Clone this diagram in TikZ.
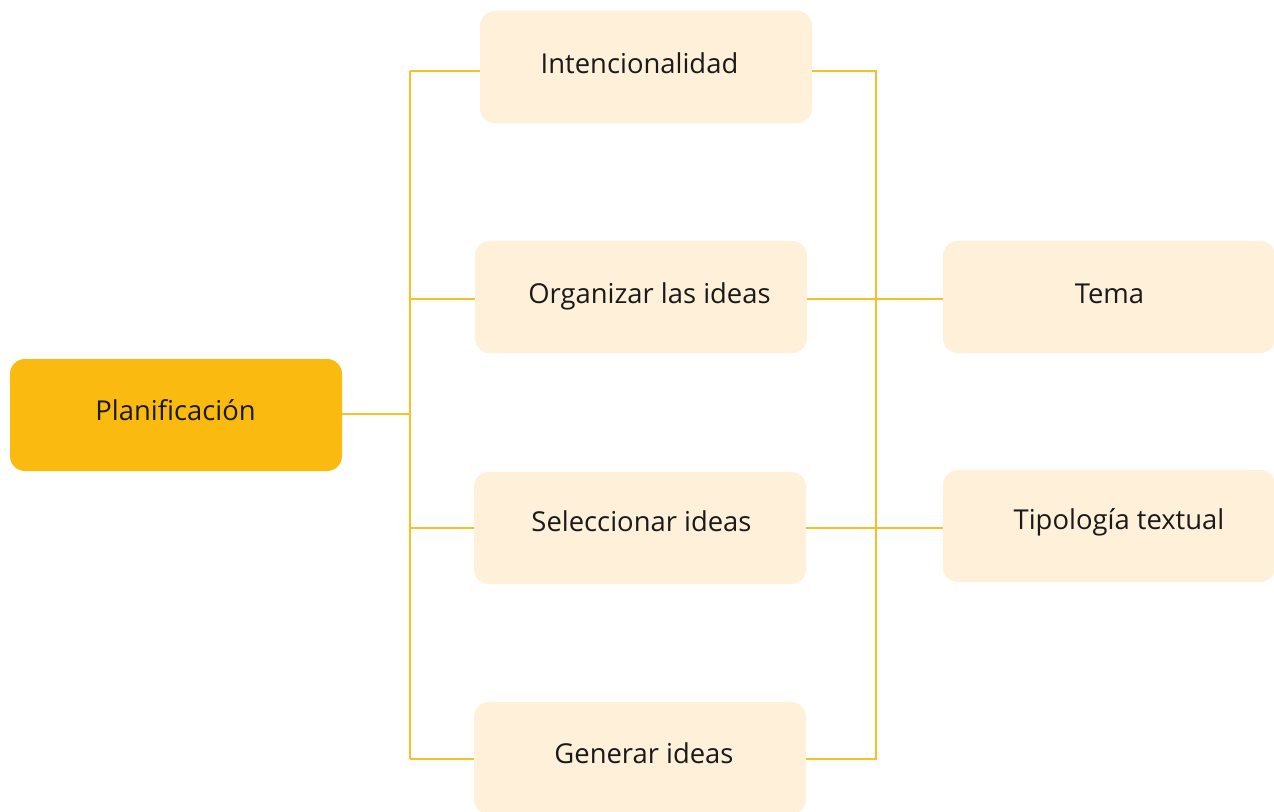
\documentclass[tikz,border=0pt]{standalone}
\usepackage{fontspec}
\setmainfont{Open Sans}
\definecolor{amber}{HTML}{FBBA10}
\definecolor{cream}{HTML}{FEF0D9}
\definecolor{linec}{HTML}{FBBE24}
\definecolor{txt}{HTML}{1A1A1A}
\begin{document}
\begin{tikzpicture}[x=1pt,y=-1pt,
  box/.style={rounded corners=15pt, minimum width=332pt, minimum height=112pt, inner sep=0pt},
  mainbox/.style={box, fill=amber},
  subbox/.style={box, fill=cream},
  lbl/.style={anchor=base, inner sep=0pt, text=txt, font=\fontsize{27.4}{32}\selectfont},
  conn/.style={draw=linec, line width=2pt}]
\clip (0,0) rectangle (1274,811);
\fill[white] (0,0) rectangle (1274,811);
\node[mainbox] (plan) at (176,415) {};
\node[subbox] (int) at (646,67) {};
\node[subbox] (org) at (641,297) {};
\node[subbox] (sel) at (640,528) {};
\node[subbox] (gen) at (640,758) {};
\node[subbox] (tema) at (1109,297) {};
\node[subbox] (tip) at (1109,526) {};
\node[lbl] (plant) at (175.5,420) {Planificación};
\node[lbl] (intt) at (639.5,73) {Intencionalidad};
\node[lbl] (orgt) at (649.5,303) {Organizar las ideas};
\node[lbl] (selt) at (641.5,531) {Seleccionar ideas};
\node[lbl] (gent) at (644,763) {Generar ideas};
\node[lbl] (temat) at (1109.5,303) {Tema};
\node[lbl] (tipt) at (1119,529) {Tipología textual};
\coordinate (L1) at (410,71);
\coordinate (L2) at (410,299);
\coordinate (L3) at (410,528);
\coordinate (L4) at (410,759);
\coordinate (R1) at (876,71);
\coordinate (R2) at (876,299);
\coordinate (R3) at (876,528);
\coordinate (R4) at (876,759);
\draw[conn] (L1) -- (L4);
\draw[conn] (plan.east |- 0,414) -- (L1 |- 0,414);
\draw[conn] (L1) -- (L1 -| int.west);
\draw[conn] (L2) -- (L2 -| org.west);
\draw[conn] (L3) -- (L3 -| sel.west);
\draw[conn] (L4) -- (L4 -| gen.west);
\draw[conn] (R1 -| int.east) -- (R1) -- (R4) -- (R4 -| gen.east);
\draw[conn] (R2 -| org.east) -- (R2 -| tema.west);
\draw[conn] (R3 -| sel.east) -- (R3 -| tip.west);
\end{tikzpicture}
\end{document}
